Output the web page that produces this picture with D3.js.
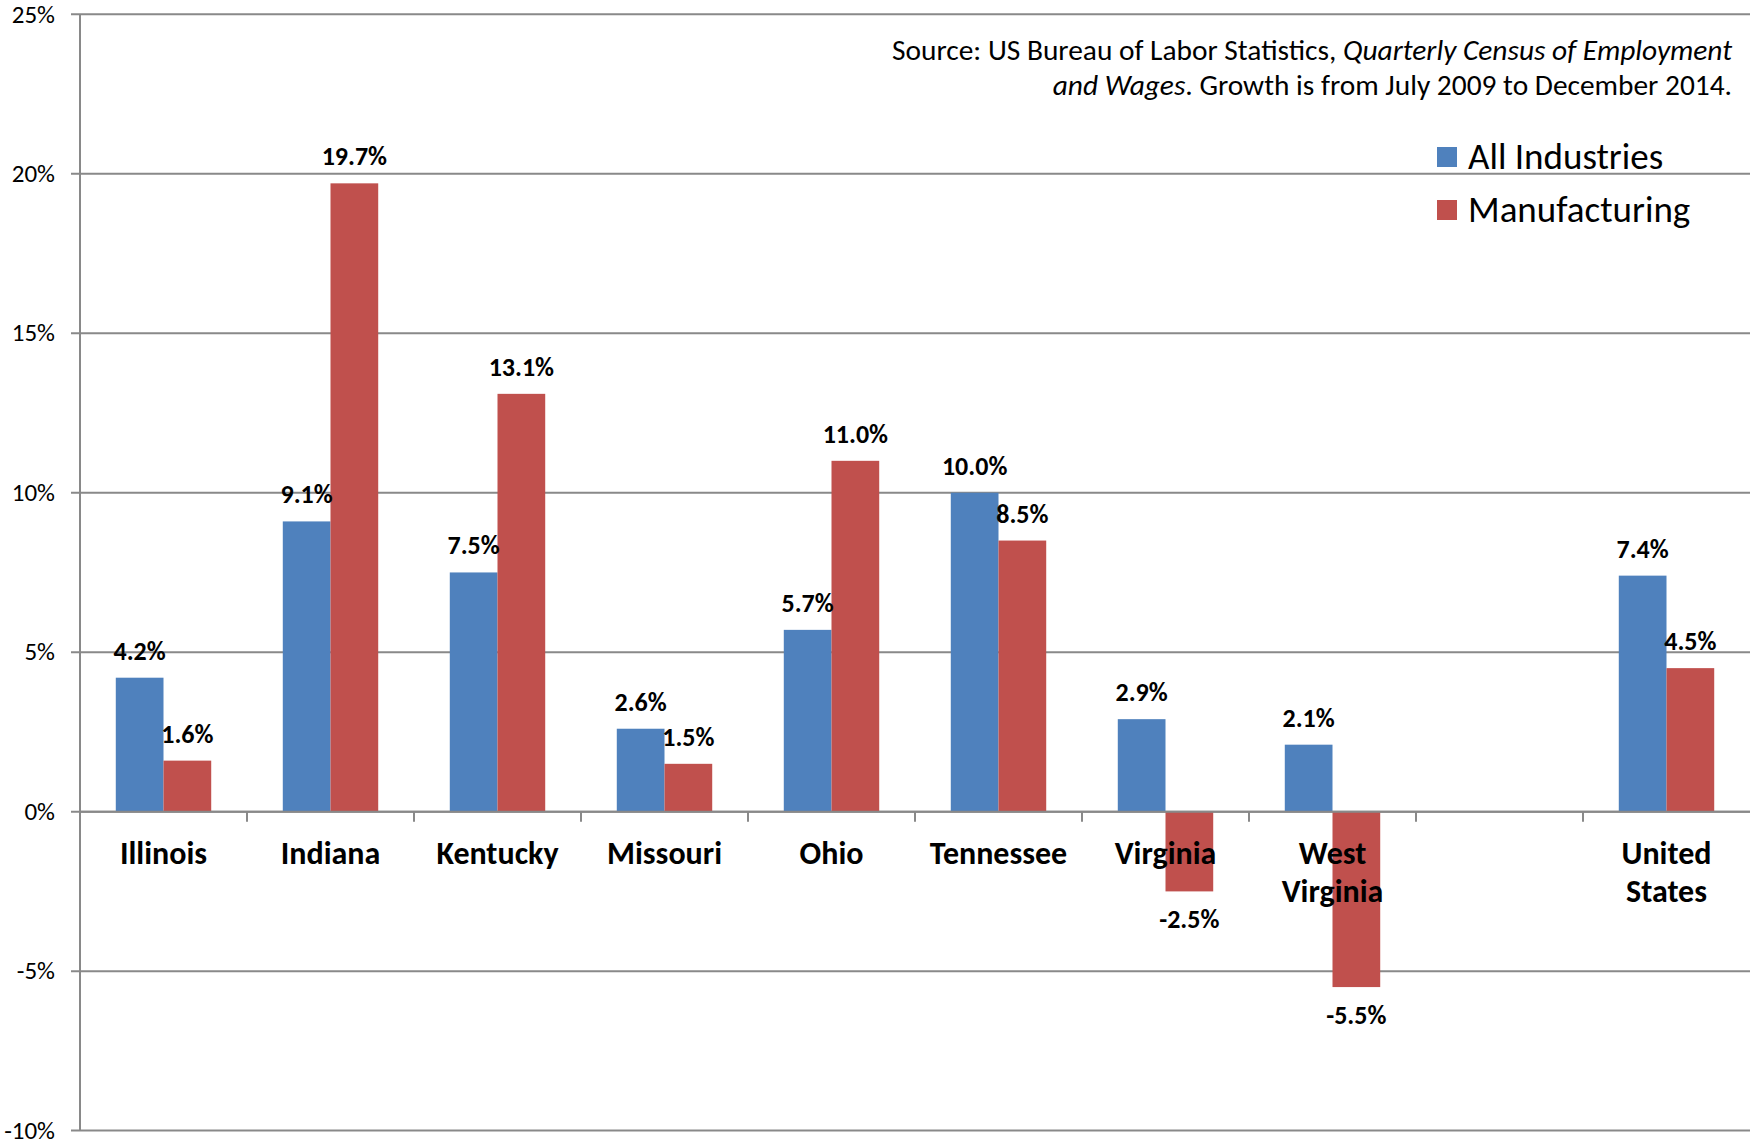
<!DOCTYPE html>
<html>
<head>
<meta charset="utf-8">
<script src="https://cdn.jsdelivr.net/npm/d3@7"></script>
<style>
  body { margin: 0; background: #fff; }
  text { font-family: Carlito, "Open Sans", sans-serif; fill: #000; }
</style>
</head>
<body>
<svg id="chart"></svg>
<script>
// Employment growth, July 2009 - Dec 2014: all industries vs manufacturing

const states = ["Illinois", "Indiana", "Kentucky", "Missouri", "Ohio", "Tennessee",
                "Virginia", "West Virginia", "", "United States"];
const allIndustries = [4.2, 9.1, 7.5, 2.6, 5.7, 10.0, 2.9, 2.1, null, 7.4];
const manufacturing = [1.6, 19.7, 13.1, 1.5, 11.0, 8.5, -2.5, -5.5, null, 4.5];
const seriesNames = ["All Industries", "Manufacturing"];
const seriesColors = ["#4F81BD", "#C0504D"];
const yTicks = [-10, -5, 0, 5, 10, 15, 20, 25];

const width = 1750, height = 1143;
const margin = {top: 14.3, right: 0, bottom: 12.4, left: 80};
const innerW = width - margin.left - margin.right;
const innerH = height - margin.top - margin.bottom;

const svg = d3.select("#chart")
    .attr("width", width)
    .attr("height", height);

const g = svg.append("g")
    .attr("transform", `translate(${margin.left},${margin.top})`);

const x0 = d3.scaleBand()
    .domain(states)
    .range([0, innerW])
    .padding(0);

const x1 = d3.scaleBand()
    .domain(seriesNames)
    .range([0, x0.bandwidth()])
    .paddingInner(0)
    .paddingOuter(0.75);

const y = d3.scaleLinear()
    .domain([-10, 25])
    .range([innerH, 0]);

const gridColor = "#898989";
const fmt = v => v.toFixed(1) + "%";   // plain hyphen for negatives, like the original

// gridlines (with small outer tick on the left)
g.selectAll("line.grid")
    .data(yTicks)
    .enter().append("line")
    .attr("class", "grid")
    .attr("x1", -9)
    .attr("x2", innerW)
    .attr("y1", d => y(d))
    .attr("y2", d => y(d))
    .attr("stroke", gridColor)
    .attr("stroke-width", 2);

// y axis line
g.append("line")
    .attr("x1", 0).attr("x2", 0)
    .attr("y1", y(25)).attr("y2", y(-10))
    .attr("stroke", gridColor)
    .attr("stroke-width", 2);

// y tick labels
g.selectAll("text.ytick")
    .data(yTicks)
    .enter().append("text")
    .attr("class", "ytick")
    .attr("x", -25)
    .attr("y", d => y(d))
    .attr("dy", "0.33em")
    .attr("text-anchor", "end")
    .style("font-size", "25px")
    .text(d => d + "%");

// category boundary ticks on the zero line
g.selectAll("line.xtick")
    .data(states.slice(1))
    .enter().append("line")
    .attr("class", "xtick")
    .attr("x1", d => x0(d))
    .attr("x2", d => x0(d))
    .attr("y1", y(0))
    .attr("y2", y(0) + 10)
    .attr("stroke", gridColor)
    .attr("stroke-width", 2);

const rows = states.map((s, i) => ({
    state: s,
    values: [
        {series: seriesNames[0], value: allIndustries[i], color: seriesColors[0]},
        {series: seriesNames[1], value: manufacturing[i], color: seriesColors[1]}
    ].filter(v => v.value !== null)
}));

const groups = g.selectAll("g.state")
    .data(rows)
    .enter().append("g")
    .attr("class", "state")
    .attr("transform", d => `translate(${x0(d.state)},0)`);

groups.selectAll("rect")
    .data(d => d.values)
    .enter().append("rect")
    .attr("x", d => x1(d.series))
    .attr("width", x1.bandwidth())
    .attr("y", d => y(Math.max(0, d.value)))
    .attr("height", d => Math.abs(y(d.value) - y(0)))
    .attr("fill", d => d.color);

// value labels
groups.selectAll("text.val")
    .data(d => d.values)
    .enter().append("text")
    .attr("class", "val")
    .attr("x", d => x1(d.series) + x1.bandwidth() / 2)
    .attr("y", d => d.value >= 0 ? y(d.value) - 18 : y(d.value) + 37)
    .attr("text-anchor", "middle")
    .style("font-size", "26px")
    .style("font-weight", "bold")
    .text(d => fmt(d.value));

// zero axis on top of bars
g.append("line")
    .attr("x1", 0).attr("x2", innerW)
    .attr("y1", y(0)).attr("y2", y(0))
    .attr("stroke", gridColor)
    .attr("stroke-width", 2);

// category labels, wrapped to the band width
const catLabels = g.selectAll("text.cat")
    .data(states)
    .enter().append("text")
    .attr("class", "cat")
    .attr("x", d => x0(d) + x0.bandwidth() / 2)
    .attr("y", y(0) + 52)
    .attr("text-anchor", "middle")
    .style("font-size", "32px")
    .style("font-weight", "bold");

catLabels.each(function(d) {
    const t = d3.select(this);
    const words = d.split(" ");
    let line = [];
    let tspan = t.append("tspan").attr("x", t.attr("x")).attr("dy", 0);
    words.forEach(w => {
        line.push(w);
        tspan.text(line.join(" "));
        if (tspan.node().getComputedTextLength() > x0.bandwidth() * 0.95 && line.length > 1) {
            line.pop();
            tspan.text(line.join(" "));
            line = [w];
            tspan = t.append("tspan").attr("x", t.attr("x")).attr("dy", 38).text(w);
        }
    });
});

// source note
const note = svg.append("text")
    .attr("x", 1732)
    .attr("y", 60)
    .attr("text-anchor", "end")
    .style("font-size", "29.4px");
note.append("tspan").text("Source: US Bureau of Labor Statistics, ");
note.append("tspan").style("font-style", "italic").text("Quarterly Census of Employment");

const note2 = svg.append("text")
    .attr("x", 1732)
    .attr("y", 95)
    .attr("text-anchor", "end")
    .style("font-size", "29.4px");
note2.append("tspan").style("font-style", "italic").text("and Wages");
note2.append("tspan").text(". Growth is from July 2009 to December 2014.");

// legend
const legend = svg.selectAll("g.legend")
    .data(seriesNames)
    .enter().append("g")
    .attr("class", "legend")
    .attr("transform", (d, i) => `translate(1437,${147 + i * 53})`);

legend.append("rect")
    .attr("width", 20)
    .attr("height", 20)
    .attr("fill", (d, i) => seriesColors[i]);

legend.append("text")
    .attr("x", 31)
    .attr("y", 22)
    .style("font-size", "37px")
    .text(d => d);
</script>
</body>
</html>
